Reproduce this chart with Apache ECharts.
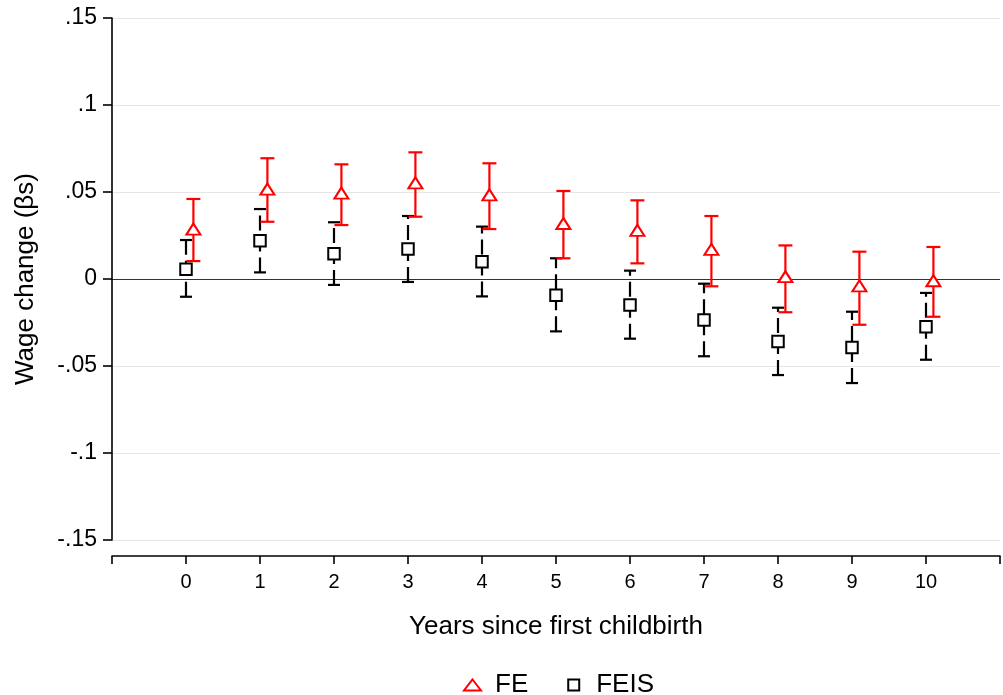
<!DOCTYPE html>
<html>
<head>
<meta charset="utf-8">
<title>Wage change by years since first childbirth</title>
<script src="https://cdn.jsdelivr.net/npm/echarts@6/dist/echarts.min.js"></script>
<style>
  html, body { margin: 0; padding: 0; background: #fff; }
  #chart { width: 1003px; height: 695px; }
</style>
</head>
<body>
<div id="chart"></div>
<script>
// years since first childbirth
var years = [0, 1, 2, 3, 4, 5, 6, 7, 8, 9, 10]

// FE estimates and 95% CI
var fe = [0.0287, 0.0517, 0.0494, 0.0553, 0.0484, 0.0319, 0.0280, 0.0170, 0.0013, -0.0040, -0.0010]
var feLo = [0.0103, 0.0329, 0.0310, 0.0358, 0.0287, 0.0119, 0.0090, -0.0042, -0.0191, -0.0263, -0.0217]
var feHi = [0.0460, 0.0694, 0.0659, 0.0728, 0.0665, 0.0506, 0.0452, 0.0362, 0.0193, 0.0157, 0.0184]

// FEIS estimates and 95% CI
var feis = [0.0056, 0.0220, 0.0145, 0.0173, 0.0099, -0.0093, -0.0149, -0.0236, -0.0359, -0.0394, -0.0274]
var feisLo = [-0.0102, 0.0038, -0.0034, -0.0017, -0.0100, -0.0301, -0.0343, -0.0444, -0.0552, -0.0598, -0.0464]
var feisHi = [0.0224, 0.0402, 0.0326, 0.0362, 0.0301, 0.0119, 0.0048, -0.0027, -0.0165, -0.0188, -0.0080]

var font = 'Liberation Sans, Arial, sans-serif'
var feShift = 0.1 // FE drawn a little to the right

var chart = echarts.init(document.getElementById('chart'))

// error bar with caps, drawn from lower end to upper end
function capBar(color, capW, dash) {
  return function(params, api) {
    var x = api.value(0)
    var lo = api.coord([x, api.value(1)])
    var hi = api.coord([x, api.value(2)])
    var st = { stroke: color, lineWidth: 2.2, fill: null }
    var lineSt = { stroke: color, lineWidth: 2.2, fill: null, lineDash: dash || null }
    return {
      type: 'group',
      children: [
        { type: 'line', shape: { x1: lo[0], y1: lo[1], x2: hi[0], y2: hi[1] }, style: lineSt },
        { type: 'line', shape: { x1: hi[0] - capW / 2, y1: hi[1], x2: hi[0] + capW / 2, y2: hi[1] }, style: st },
        { type: 'line', shape: { x1: lo[0] - capW / 2, y1: lo[1], x2: lo[0] + capW / 2, y2: lo[1] }, style: st }
      ]
    }
  }
}

var yColors = ['#e6e6e6', '#e6e6e6', '#e6e6e6', '#333333', '#e6e6e6', '#e6e6e6', '#e6e6e6']

chart.setOption({
  animation: false,
  backgroundColor: '#fff',
  grid: { left: 112, right: -7, top: 18, bottom: 155 },
  xAxis: {
    type: 'value',
    min: -1,
    max: 11,
    interval: 1,
    offset: 16,
    name: 'Years since first childbirth',
    nameLocation: 'middle',
    nameGap: 58,
    nameTextStyle: { fontFamily: font, fontSize: 26, color: '#000' },
    axisLine: { show: true, onZero: false, lineStyle: { color: '#000', width: 1.6 } },
    axisTick: { show: true, length: 8, lineStyle: { color: '#000', width: 1.6 } },
    axisLabel: {
      margin: 16,
      fontFamily: font,
      fontSize: 20,
      color: '#000',
      formatter: function(v) { return (v < 0 || v > 10) ? '' : String(v) }
    },
    splitLine: { show: false }
  },
  yAxis: {
    type: 'value',
    min: -0.15,
    max: 0.15,
    interval: 0.05,
    name: 'Wage change (βs)',
    nameLocation: 'middle',
    nameGap: 73,
    nameTextStyle: { fontFamily: font, fontSize: 26, color: '#000' },
    axisLine: { show: true, onZero: false, lineStyle: { color: '#000', width: 1.6 } },
    axisTick: { show: true, length: 9, lineStyle: { color: '#000', width: 1.6 } },
    axisLabel: {
      margin: 15,
      fontFamily: font,
      fontSize: 23,
      color: '#000',
      formatter: function(v) {
        var r = +v.toFixed(2)
        if (r === 0) return '0'
        return (r < 0 ? '-' : '') + String(Math.abs(r)).replace(/^0/, '')
      }
    },
    splitLine: { show: true, lineStyle: { color: yColors, width: 1.2 } }
  },
  legend: {
    left: 458,
    top: 667,
    selectedMode: false,
    itemWidth: 17,
    itemHeight: 11,
    itemGap: 39,
    textStyle: { fontFamily: font, fontSize: 26, color: '#000', padding: [0, 0, 0, 9] },
    data: [
      { name: 'FE', icon: 'triangle' },
      { name: 'FEIS', icon: 'path://M0,0L10,0L10,10L0,10Z' }
    ]
  },
  series: [
    {
      type: 'custom',
      name: 'FEIS ci',
      renderItem: capBar('#000', 12, [15, 6]),
      encode: { x: 0, y: [1, 2] },
      data: years.map(function(y, i) { return [y, feisLo[i], feisHi[i]] }),
      z: 2
    },
    {
      type: 'scatter',
      name: 'FEIS',
      symbol: 'rect',
      symbolSize: 11.5,
      itemStyle: { color: '#fff', borderColor: '#000', borderWidth: 2, opacity: 1 },
      data: years.map(function(y, i) { return [y, feis[i]] }),
      z: 3
    },
    {
      type: 'custom',
      name: 'FE ci',
      renderItem: capBar('#ff0000', 14),
      encode: { x: 0, y: [1, 2] },
      data: years.map(function(y, i) { return [y + feShift, feLo[i], feHi[i]] }),
      z: 4
    },
    {
      type: 'scatter',
      name: 'FE',
      symbol: 'triangle',
      symbolSize: [14, 11],
      itemStyle: { color: '#fff', borderColor: '#ff0000', borderWidth: 2, opacity: 1 },
      data: years.map(function(y, i) { return [y + feShift, fe[i]] }),
      z: 5
    }
  ]
})
</script>
</body>
</html>
